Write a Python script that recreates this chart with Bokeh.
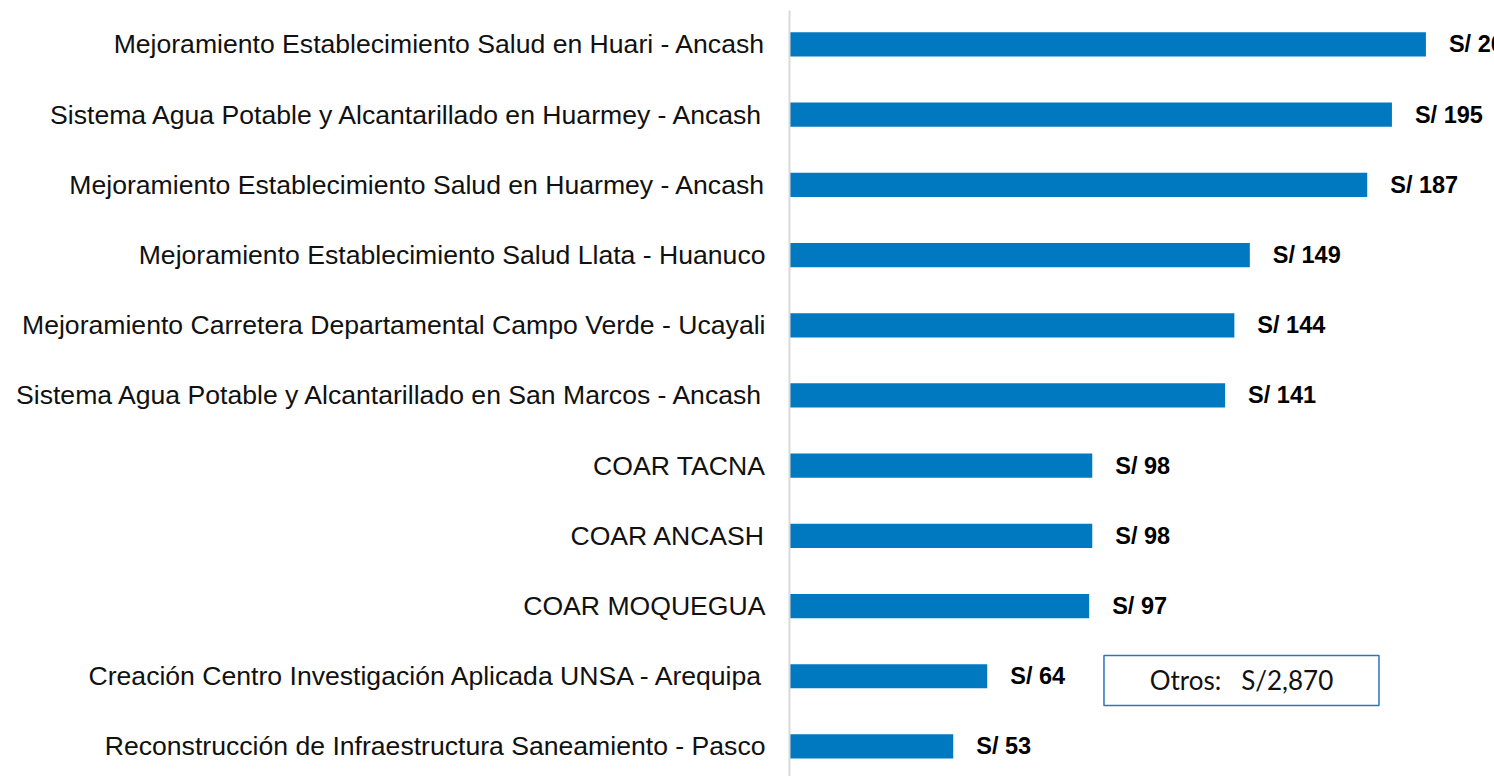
from bokeh.plotting import figure
from bokeh.models import ColumnDataSource, Range1d, FixedTicker
from bokeh.core.properties import value
from bokeh.embed import file_html
from bokeh.resources import INLINE

projects = [
    "Mejoramiento Establecimiento Salud en Huari - Ancash",
    "Sistema Agua Potable y Alcantarillado en Huarmey - Ancash",
    "Mejoramiento Establecimiento Salud en Huarmey - Ancash",
    "Mejoramiento Establecimiento Salud Llata - Huanuco",
    "Mejoramiento Carretera Departamental Campo Verde - Ucayali",
    "Sistema Agua Potable y Alcantarillado en San Marcos - Ancash",
    "COAR TACNA",
    "COAR ANCASH",
    "COAR MOQUEGUA",
    "Creación Centro Investigación Aplicada UNSA - Arequipa",
    "Reconstrucción de Infraestructura Saneamiento - Pasco",
]
amounts = [206, 195, 187, 149, 144, 141, 98, 98, 97, 64, 53]
others_text = "Otros:\u00a0\u00a0 S/2,870"

n = len(projects)
ypos = [n - 1 - i for i in range(n)]
labels = [f"S/ {a}" for a in amounts]

src = ColumnDataSource(dict(y=ypos, amount=amounts, label=labels, name=projects))

p = figure(width=1494, height=776, output_backend="svg", toolbar_location=None,
           x_range=Range1d(0, 228.2), y_range=Range1d(-0.428, n - 1 + 0.484),
           min_border_left=789, min_border_right=0, min_border_top=10,
           min_border_bottom=0)
p.outline_line_color = None
p.grid.visible = False
p.xaxis.visible = False
p.background_fill_color = "white"
p.border_fill_color = "white"

p.hbar(y="y", right="amount", left=0, height=0.345, source=src,
       fill_color="#0079C1", line_color=None)

p.text(x="amount", y="y", text="label", source=src, x_offset=23,
       text_baseline="middle", text_align="left",
       text_font=value("Liberation Sans"), text_font_style="bold",
       text_font_size="23.5px", text_color="black")

yax = p.yaxis[0]
yax.ticker = FixedTicker(ticks=ypos)
yax.major_label_overrides = {y: name for y, name in zip(ypos, projects)}
yax.major_tick_line_color = None
yax.minor_tick_line_color = None
yax.major_tick_out = 0
yax.major_tick_in = 0
yax.major_label_standoff = 24
yax.major_label_text_font = "Liberation Sans"
yax.major_label_text_font_size = "26.6px"
yax.major_label_text_color = "#111111"
yax.axis_line_color = "#d9d9d9"
yax.axis_line_width = 2

# "Otros" box placed near the 10th row
box_x, box_y = 146.3, 0.94
p.rect(x=[box_x], y=[box_y], width=275, height=50, width_units="screen",
       height_units="screen", fill_color="white", line_color="#2E75B6",
       line_width=1.5)
p.text(x=[box_x], y=[box_y], text=[others_text], text_align="center",
       text_baseline="middle", text_font=value("Lato"),
       text_font_size="26px", text_color="#111111")

open("out.html", "w").write(file_html(p, INLINE))
